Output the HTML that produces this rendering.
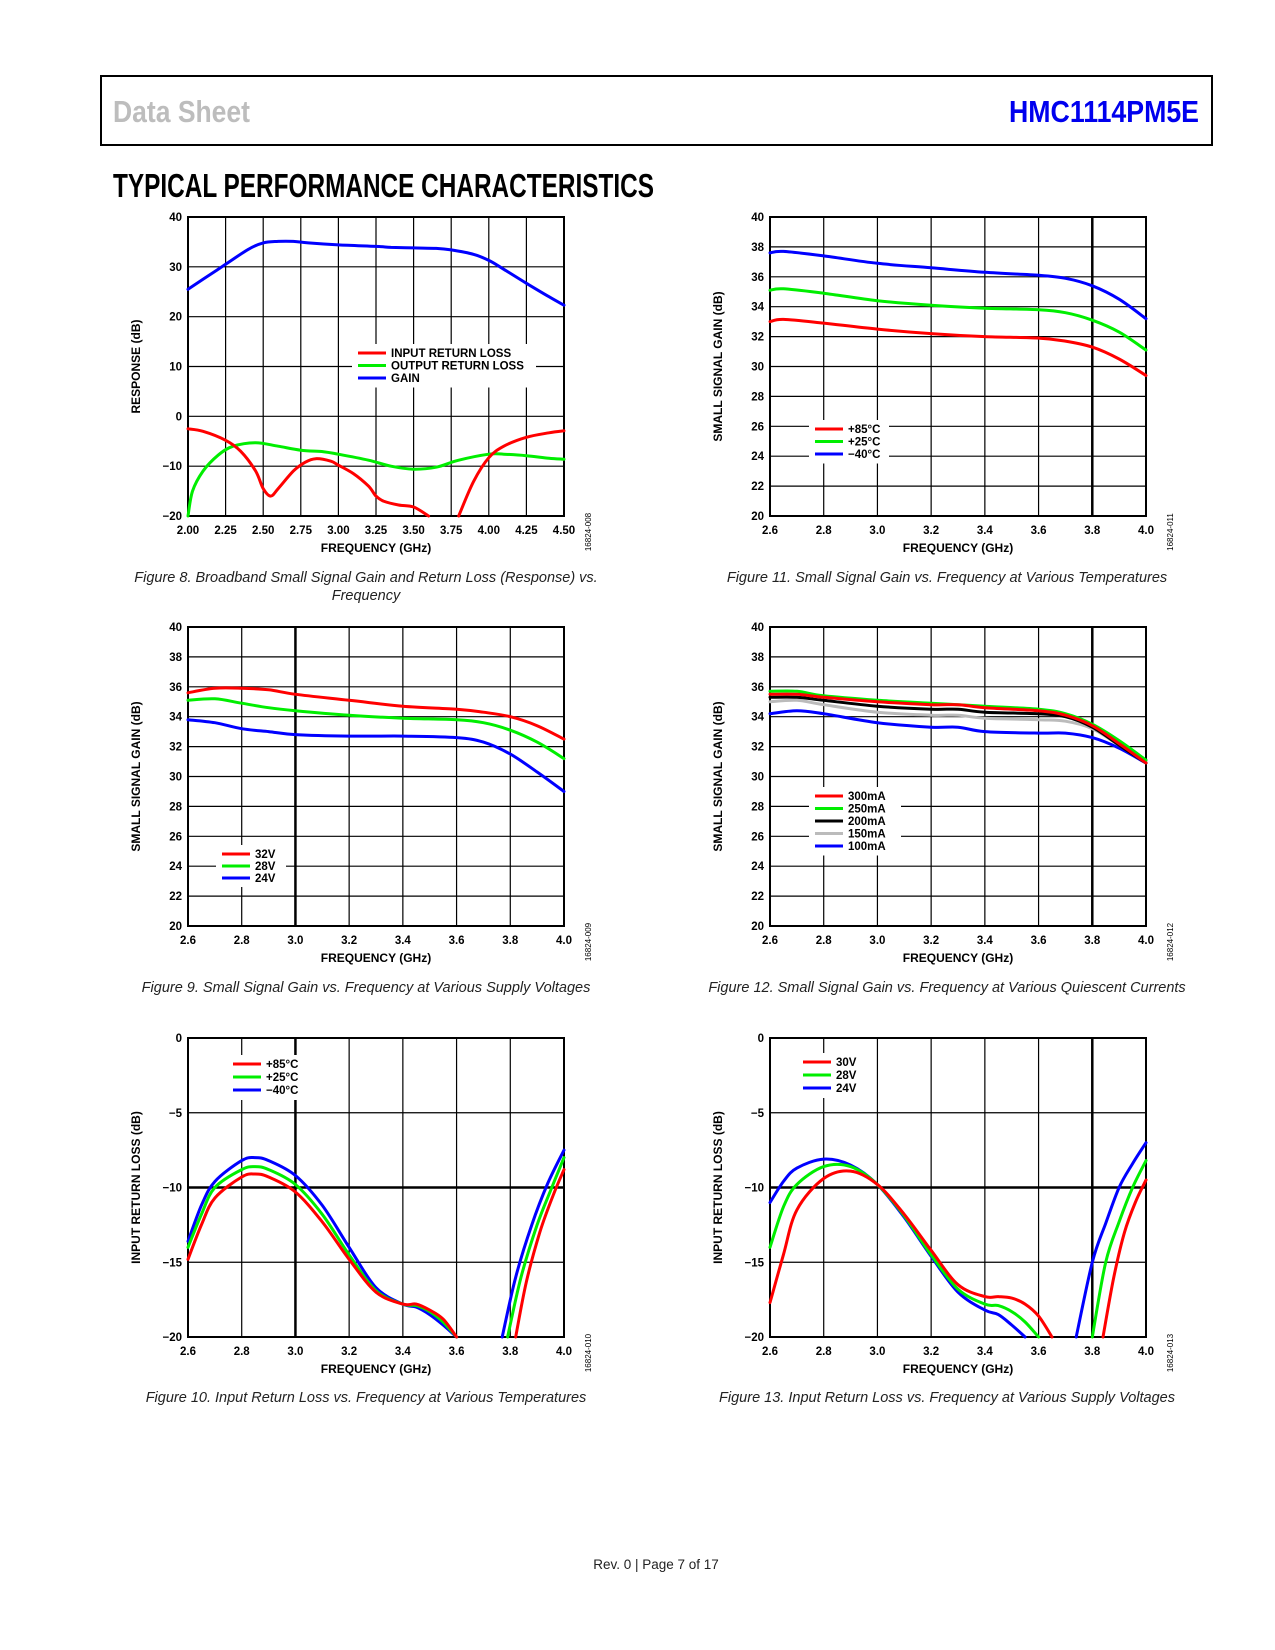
<!DOCTYPE html>
<html><head><meta charset="utf-8"><style>
body{margin:0;background:#fff;}
svg{display:block;font-family:"Liberation Sans",Arial,sans-serif;}
.tk{font-size:11.5px;font-weight:bold;fill:#000;}
.ax{font-size:12px;font-weight:bold;fill:#000;}
.cap{font-size:14.5px;font-style:italic;fill:#222;}
.lg{font-size:11.5px;font-weight:bold;fill:#000;}
.code{font-size:8px;fill:#000;}
</style></head><body>
<svg id="page" width="1275" height="1650" viewBox="0 0 1275 1650" xmlns="http://www.w3.org/2000/svg">
<rect x="101" y="76" width="1111" height="69" fill="none" stroke="#000" stroke-width="2"/>
<text x="113" y="122" font-family="'Liberation Sans',sans-serif" font-weight="bold" font-size="31" fill="#bdbdbd" textLength="137" lengthAdjust="spacingAndGlyphs">Data Sheet</text>
<text x="1199" y="122" text-anchor="end" font-family="'Liberation Sans',sans-serif" font-weight="bold" font-size="31" fill="#0000ee" textLength="190" lengthAdjust="spacingAndGlyphs">HMC1114PM5E</text>
<text x="113" y="197" font-family="'Liberation Sans',sans-serif" font-weight="bold" font-size="33" fill="#000" textLength="541" lengthAdjust="spacingAndGlyphs">TYPICAL PERFORMANCE CHARACTERISTICS</text>
<text class="cap" x="366" y="582" text-anchor="middle">Figure 8. Broadband Small Signal Gain and Return Loss (Response) vs.</text>
<text class="cap" x="366" y="600" text-anchor="middle">Frequency</text>
<text class="cap" x="947" y="582" text-anchor="middle">Figure 11. Small Signal Gain vs. Frequency at Various Temperatures</text>
<text class="cap" x="366" y="992" text-anchor="middle">Figure 9. Small Signal Gain vs. Frequency at Various Supply Voltages</text>
<text class="cap" x="947" y="992" text-anchor="middle">Figure 12. Small Signal Gain vs. Frequency at Various Quiescent Currents</text>
<text class="cap" x="366" y="1402" text-anchor="middle">Figure 10. Input Return Loss vs. Frequency at Various Temperatures</text>
<text class="cap" x="947" y="1402" text-anchor="middle">Figure 13. Input Return Loss vs. Frequency at Various Supply Voltages</text>
<text x="656" y="1569" text-anchor="middle" font-size="13.5" fill="#222">Rev. 0 | Page 7 of 17</text>
</svg>
<script>
// ---- Figure 8 ----
const f8XTicks=[2.00,2.25,2.50,2.75,3.00,3.25,3.50,3.75,4.00,4.25,4.50];
const f8XLabels=['2.00','2.25','2.50','2.75','3.00','3.25','3.50','3.75','4.00','4.25','4.50'];
const f8YTicks=[-20,-10,0,10,20,30,40];
const f8YLabels=['−20','−10','0','10','20','30','40'];
const f8GainX=[2.0,2.1,2.25,2.4,2.5,2.6,2.7,2.8,3.0,3.25,3.35,3.5,3.65,3.75,3.9,4.0,4.1,4.25,4.4,4.5];
const f8GainY=[25.5,27.5,30.5,33.5,34.8,35.1,35.1,34.8,34.4,34.1,33.9,33.8,33.7,33.4,32.5,31.3,29.5,26.7,24.0,22.3];
const f8InX=[2.0,2.1,2.25,2.35,2.45,2.5,2.55,2.6,2.7,2.78,2.85,2.95,3.0,3.1,3.2,3.25,3.3,3.4,3.5,3.6,3.7,3.8,3.9,4.0,4.1,4.25,4.4,4.5];
const f8InY=[-2.5,-3.0,-4.8,-7,-11,-14.5,-16.0,-14.5,-11,-9.2,-8.5,-9,-9.8,-11.5,-14,-16,-17,-17.8,-18.2,-20,null,-20,-13,-8.3,-6,-4.2,-3.3,-2.9];
const f8OutX=[2.0,2.03,2.1,2.2,2.3,2.45,2.6,2.75,2.9,3.0,3.2,3.35,3.5,3.65,3.8,4.0,4.1,4.25,4.4,4.5];
const f8OutY=[-20,-15,-11,-7.8,-6,-5.3,-6,-6.8,-7.1,-7.6,-8.8,-10,-10.6,-10.2,-8.8,-7.6,-7.6,-7.9,-8.4,-8.6];
// ---- shared 2.6-4.0 axis ----
const gXTicks=[2.6,2.8,3.0,3.2,3.4,3.6,3.8,4.0];
const gXLabels=['2.6','2.8','3.0','3.2','3.4','3.6','3.8','4.0'];
const gYTicks=[20,22,24,26,28,30,32,34,36,38,40];
const gYLabels=['20','22','24','26','28','30','32','34','36','38','40'];
const rlYTicks=[-20,-15,-10,-5,0];
const rlYLabels=['−20','−15','−10','−5','0'];
// ---- Figure 9 ----
const f9X=[2.6,2.7,2.8,2.9,3.0,3.2,3.4,3.6,3.7,3.8,3.9,4.0];
const f9V32=[35.6,35.9,35.9,35.8,35.5,35.1,34.7,34.5,34.3,34.0,33.4,32.5];
const f9V28=[35.1,35.2,34.9,34.6,34.4,34.1,33.9,33.8,33.6,33.1,32.3,31.2];
const f9V24=[33.8,33.6,33.2,33.0,32.8,32.7,32.7,32.6,32.3,31.5,30.3,29.0];
// ---- Figure 11 ----
const f11X=[2.6,2.65,2.8,3.0,3.2,3.4,3.6,3.7,3.8,3.9,4.0];
const f11T85=[33.0,33.15,32.9,32.5,32.2,32.0,31.9,31.7,31.3,30.5,29.4];
const f11T25=[35.1,35.2,34.9,34.4,34.1,33.9,33.8,33.6,33.1,32.3,31.1];
const f11Tm40=[37.6,37.7,37.4,36.9,36.6,36.3,36.1,35.9,35.4,34.5,33.2];
// ---- Figure 12 ----
const f12X=[2.6,2.7,2.8,3.0,3.2,3.3,3.4,3.6,3.7,3.8,3.9,4.0];
const f12I300=[35.5,35.5,35.3,35.0,34.8,34.8,34.6,34.4,34.1,33.4,32.2,30.9];
const f12I250=[35.7,35.7,35.4,35.1,34.9,34.8,34.7,34.5,34.2,33.5,32.4,31.1];
const f12I200=[35.3,35.3,35.1,34.7,34.5,34.5,34.3,34.2,34.0,33.3,32.1,30.9];
const f12I150=[35.0,35.1,34.8,34.3,34.1,34.1,33.9,33.8,33.7,33.2,32.1,31.0];
const f12I100=[34.2,34.4,34.2,33.6,33.3,33.3,33.0,32.9,32.9,32.6,31.9,30.9];
// ---- Figure 10 ----
const f10X=[2.6,2.65,2.7,2.8,2.85,2.9,3.0,3.1,3.2,3.3,3.4,3.45,3.5,3.55,3.6];
const f10T85=[-14.8,-12.5,-10.7,-9.3,-9.1,-9.3,-10.3,-12.3,-14.8,-17.0,-17.8,-17.8,-18.2,-18.8,-20];
const f10T25=[-14.0,-11.8,-10.0,-8.8,-8.6,-8.8,-9.8,-11.8,-14.5,-16.9,-17.8,-17.9,-18.3,-19.0,-20];
const f10Tm40=[-13.6,-11.2,-9.6,-8.2,-8.0,-8.2,-9.2,-11.2,-14.0,-16.7,-17.8,-18.0,-18.5,-19.2,-20];
const f10T85bX=[3.82,3.86,3.91,3.96,4.0], f10T85bY=[-20,-16.3,-13,-10.5,-8.8];
const f10T25bX=[3.79,3.84,3.9,3.95,4.0], f10T25bY=[-20,-16,-12.5,-10.2,-8.0];
const f10Tm40bX=[3.77,3.82,3.88,3.94,4.0], f10Tm40bY=[-20,-16,-12.5,-9.7,-7.5];
// ---- Figure 13 ----
const f13X30=[2.6,2.65,2.7,2.8,2.9,3.0,3.1,3.2,3.3,3.4,3.45,3.5,3.55,3.6,3.65];
const f13V30=[-17.7,-14.5,-11.5,-9.4,-8.9,-9.8,-11.8,-14.2,-16.5,-17.3,-17.3,-17.4,-17.8,-18.6,-20];
const f13X28=[2.6,2.65,2.7,2.8,2.9,3.0,3.1,3.2,3.3,3.4,3.45,3.5,3.55,3.6];
const f13V28=[-14.0,-11.3,-9.8,-8.6,-8.6,-9.8,-11.9,-14.5,-16.8,-17.8,-17.9,-18.3,-19.0,-20];
const f13X24=[2.6,2.65,2.7,2.8,2.9,3.0,3.1,3.2,3.3,3.4,3.45,3.5,3.55];
const f13V24=[-11.0,-9.6,-8.7,-8.1,-8.5,-9.8,-12.0,-14.6,-17.0,-18.2,-18.5,-19.2,-20];
const f13V30bX=[3.84,3.88,3.92,3.96,4.0], f13V30bY=[-20,-16,-13,-11,-9.5];
const f13V28bX=[3.8,3.85,3.9,3.95,4.0], f13V28bY=[-20,-15,-12.3,-10.0,-8.2];
const f13V24bX=[3.74,3.8,3.85,3.9,3.95,4.0], f13V24bY=[-20,-15,-12.4,-10.0,-8.4,-7.0];

const NS='http://www.w3.org/2000/svg';
const page=document.getElementById('page');
function mk(tag,attrs,parent){const e=document.createElementNS(NS,tag);for(const k in attrs)e.setAttribute(k,attrs[k]);(parent||page).appendChild(e);return e;}

function smoothPath(pts){
  let d='M'+pts[0][0].toFixed(1)+','+pts[0][1].toFixed(1);
  for(let i=0;i<pts.length-1;i++){
    const p0=pts[i-1]||pts[i],p1=pts[i],p2=pts[i+1],p3=pts[i+2]||p2;
    const c1x=p1[0]+(p2[0]-p0[0])/6,c1y=p1[1]+(p2[1]-p0[1])/6;
    const c2x=p2[0]-(p3[0]-p1[0])/6,c2y=p2[1]-(p3[1]-p1[1])/6;
    d+=' C'+c1x.toFixed(1)+','+c1y.toFixed(1)+' '+c2x.toFixed(1)+','+c2y.toFixed(1)+' '+p2[0].toFixed(1)+','+p2[1].toFixed(1);
  }
  return d;
}

function chart(o){
  const L=o.L,T=o.T,W=376,H=299;
  const sx=v=>L+(v-o.xmin)/(o.xmax-o.xmin)*W;
  const sy=v=>T+H-(v-o.ymin)/(o.ymax-o.ymin)*H;
  const g=mk('g',{});
  
  
  o.xt.forEach((v,i)=>{
    const thick=o.thickX===v;
    const ln=mk('line',{x1:sx(v),x2:sx(v),y1:T,y2:T+H,stroke:'#000','stroke-width':thick?2.5:1.2},g);
    
    
    const t=mk('text',{x:sx(v),y:T+H+18,'text-anchor':'middle',class:'tk'},g);
    
    
    t.textContent=o.xl[i];
  });
  o.yt.forEach((v,i)=>{
    const thick=o.thickY===v;
    const ln=mk('line',{x1:L,x2:L+W,y1:sy(v),y2:sy(v),stroke:'#000','stroke-width':thick?2.5:1.2},g);
    
    
    const t=mk('text',{x:L-6,y:sy(v)+4,'text-anchor':'end',class:'tk'},g);
    
    
    t.textContent=o.yl[i];
  });
  const fr=mk('rect',{x:L,y:T,width:W,height:H,fill:'none',stroke:'#000','stroke-width':2},g);
  
  
  if(o.leg){
    const lb=mk('rect',{x:o.leg.x-6,y:o.leg.y-9,width:o.leg.w,height:o.leg.dy*o.leg.items.length+6,fill:'#fff'},g);
    
    
  }
  o.series.forEach(s=>{
    const segs=[];let cur=[];
    s.x.forEach((xv,i)=>{const yv=s.y[i];if(yv===null){if(cur.length)segs.push(cur);cur=[];}else cur.push([sx(xv),sy(yv)]);});
    if(cur.length)segs.push(cur);
    segs.forEach(sg=>{
      const p=mk('path',{d:smoothPath(sg),fill:'none',stroke:s.c,'stroke-width':3,'stroke-linejoin':'round','stroke-linecap':'round'},g);
      
      
    });
  });
  if(o.leg){
    o.leg.items.forEach((it,i)=>{
      const y=o.leg.y+i*o.leg.dy;
      const l=mk('line',{x1:o.leg.x,x2:o.leg.x+28,y1:y,y2:y,stroke:it[1],'stroke-width':3},g);
      
      
      const t=mk('text',{x:o.leg.x+33,y:y+4,class:'lg'},g);
      
      
      t.textContent=it[0];
    });
  }
  const yl=mk('text',{x:L-48,y:T+H/2,'text-anchor':'middle',class:'ax',transform:'rotate(-90 '+(L-48)+' '+(T+H/2)+')'},g);
  
  
  yl.textContent=o.ylab;
  const xl=mk('text',{x:L+W/2,y:T+H+36,'text-anchor':'middle',class:'ax'},g);
  
  
  xl.textContent='FREQUENCY (GHz)';
  const cx=L+W+27,cy=T+H+16;
  const cd=mk('text',{x:cx,y:cy,'text-anchor':'middle',class:'code',transform:'rotate(-90 '+cx+' '+cy+')'},g);
  
  
  cd.textContent=o.code;
}

const LX=188,RX=770,R1=217,R2=627,R3=1038;
chart({name:'fig8-chart',L:LX,T:R1,xmin:2,xmax:4.5,ymin:-20,ymax:40,xt:f8XTicks,xl:f8XLabels,yt:f8YTicks,yl:f8YLabels,ylab:'RESPONSE (dB)',code:'16824-008',
 series:[{x:f8GainX,y:f8GainY,c:'#0000ff',n:'gain-line'},{x:f8OutX,y:f8OutY,c:'#00ee00',n:'output-return-loss-line'},{x:f8InX,y:f8InY,c:'#ff0000',n:'input-return-loss-line'}],
 leg:{x:358,y:353,dy:12.5,w:184,items:[['INPUT RETURN LOSS','#ff0000'],['OUTPUT RETURN LOSS','#00ee00'],['GAIN','#0000ff']]}});
chart({name:'fig11-chart',L:RX,T:R1,xmin:2.6,xmax:4.0,ymin:20,ymax:40,xt:gXTicks,xl:gXLabels,yt:gYTicks,yl:gYLabels,thickX:3.8,ylab:'SMALL SIGNAL GAIN (dB)',code:'16824-011',
 series:[{x:f11X,y:f11Tm40,c:'#0000ff',n:'minus40c-line'},{x:f11X,y:f11T25,c:'#00ee00',n:'plus25c-line'},{x:f11X,y:f11T85,c:'#ff0000',n:'plus85c-line'}],
 leg:{x:815,y:429,dy:12.5,w:80,items:[['+85°C','#ff0000'],['+25°C','#00ee00'],['−40°C','#0000ff']]}});
chart({name:'fig9-chart',L:LX,T:R2,xmin:2.6,xmax:4.0,ymin:20,ymax:40,xt:gXTicks,xl:gXLabels,yt:gYTicks,yl:gYLabels,thickX:3.0,ylab:'SMALL SIGNAL GAIN (dB)',code:'16824-009',
 series:[{x:f9X,y:f9V24,c:'#0000ff',n:'24v-line'},{x:f9X,y:f9V28,c:'#00ee00',n:'28v-line'},{x:f9X,y:f9V32,c:'#ff0000',n:'32v-line'}],
 leg:{x:222,y:854,dy:12,w:70,items:[['32V','#ff0000'],['28V','#00ee00'],['24V','#0000ff']]}});
chart({name:'fig12-chart',L:RX,T:R2,xmin:2.6,xmax:4.0,ymin:20,ymax:40,xt:gXTicks,xl:gXLabels,yt:gYTicks,yl:gYLabels,thickX:3.8,ylab:'SMALL SIGNAL GAIN (dB)',code:'16824-012',
 series:[{x:f12X,y:f12I100,c:'#0000ff',n:'100ma-line'},{x:f12X,y:f12I150,c:'#bbbbbb',n:'150ma-line'},{x:f12X,y:f12I200,c:'#000000',n:'200ma-line'},{x:f12X,y:f12I250,c:'#00ee00',n:'250ma-line'},{x:f12X,y:f12I300,c:'#ff0000',n:'300ma-line'}],
 leg:{x:815,y:796,dy:12.5,w:92,items:[['300mA','#ff0000'],['250mA','#00ee00'],['200mA','#000000'],['150mA','#bbbbbb'],['100mA','#0000ff']]}});
chart({name:'fig10-chart',L:LX,T:R3,xmin:2.6,xmax:4.0,ymin:-20,ymax:0,xt:gXTicks,xl:gXLabels,yt:rlYTicks,yl:rlYLabels,thickX:3.0,thickY:-10,ylab:'INPUT RETURN LOSS (dB)',code:'16824-010',
 series:[{x:f10X,y:f10Tm40,c:'#0000ff',n:'minus40c-line'},{x:f10X,y:f10T25,c:'#00ee00',n:'plus25c-line'},{x:f10X,y:f10T85,c:'#ff0000',n:'plus85c-line'},
  {x:f10Tm40bX,y:f10Tm40bY,c:'#0000ff',n:'minus40c-line-upper'},{x:f10T25bX,y:f10T25bY,c:'#00ee00',n:'plus25c-line-upper'},{x:f10T85bX,y:f10T85bY,c:'#ff0000',n:'plus85c-line-upper'}],
 leg:{x:233,y:1064,dy:13,w:80,items:[['+85°C','#ff0000'],['+25°C','#00ee00'],['−40°C','#0000ff']]}});
chart({name:'fig13-chart',L:RX,T:R3,xmin:2.6,xmax:4.0,ymin:-20,ymax:0,xt:gXTicks,xl:gXLabels,yt:rlYTicks,yl:rlYLabels,thickX:3.8,thickY:-10,ylab:'INPUT RETURN LOSS (dB)',code:'16824-013',
 series:[{x:f13X24,y:f13V24,c:'#0000ff',n:'24v-line'},{x:f13X28,y:f13V28,c:'#00ee00',n:'28v-line'},{x:f13X30,y:f13V30,c:'#ff0000',n:'30v-line'},
  {x:f13V24bX,y:f13V24bY,c:'#0000ff',n:'24v-line-upper'},{x:f13V28bX,y:f13V28bY,c:'#00ee00',n:'28v-line-upper'},{x:f13V30bX,y:f13V30bY,c:'#ff0000',n:'30v-line-upper'}],
 leg:{x:803,y:1062,dy:13,w:70,items:[['30V','#ff0000'],['28V','#00ee00'],['24V','#0000ff']]}});
</script>
</body></html>
